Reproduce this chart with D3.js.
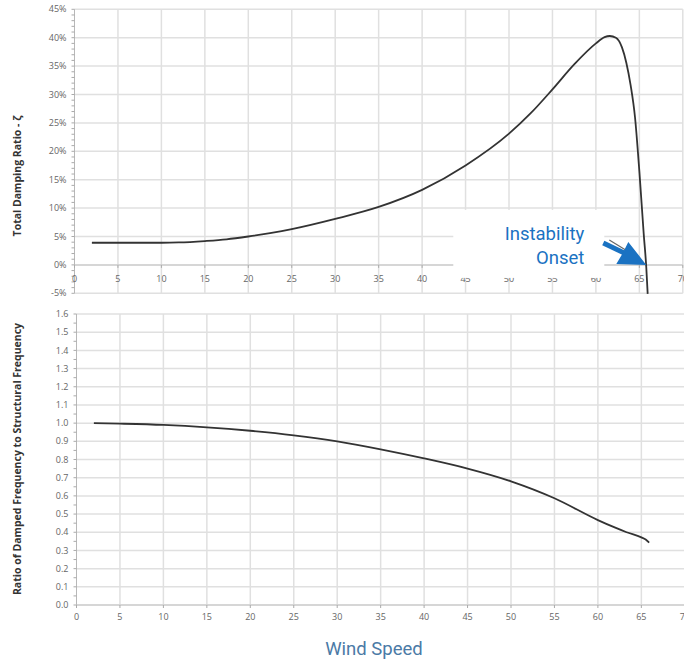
<!DOCTYPE html>
<html><head><meta charset="utf-8">
<script src="https://cdn.jsdelivr.net/npm/d3@7"></script>
<style>
html,body{margin:0;padding:0;background:#fff;}
svg{display:block;}
</style></head>
<body>
<svg id="chart" width="684" height="659"></svg>
<script>
// ---- data ----
const xTicks = [0,5,10,15,20,25,30,35,40,45,50,55,60,65,70];
const dampTicks = [-5,0,5,10,15,20,25,30,35,40,45];
const freqTicks = [0,0.1,0.2,0.3,0.4,0.5,0.6,0.7,0.8,0.9,1.0,1.1,1.2,1.3,1.4,1.5,1.6];

const dampSpeed = [2,5,10,12,15,17.5,20,22.5,25,30,35,40,45,50,52.5,55,57.5,60,61,61.6,62.3,63,63.5,64,64.5,65,65.5,65.8,65.96];
const dampRatio = [3.9,3.9,3.9,3.95,4.2,4.5,5.0,5.6,6.3,8.1,10.2,13.2,17.5,23.1,26.7,30.9,35.3,39.0,40.1,40.3,40.0,38.3,35.6,31.6,26.0,16.5,5.5,-0.5,-5.1];

const freqSpeed = [2,5,10,15,20,25,30,35,40,45,50,55,60,62,63.3,65,65.5,65.9];
const freqRatio = [1.0,0.997,0.99,0.977,0.958,0.933,0.900,0.856,0.806,0.750,0.680,0.587,0.467,0.425,0.400,0.372,0.360,0.343];

const onsetSpeed = 65.8;
const xTitle = "Wind Speed";
const yTitleTop = "Total Damping Ratio - \u03B6";
const yTitleBottom = "Ratio of Damped Frequency to Structural Frequency";
const annotationLines = ["Instability","Onset"];

// ---- drawing ----
const svg = d3.select("#chart");
const gridColor = "#e0e0e0";
const tickFont = "'Open Sans', 'DejaVu Sans', sans-serif";

const xTop = d3.scaleLinear().domain([0,70]).range([74.5, 682.8]);
const yTop = d3.scaleLinear().domain([-5,45]).range([293.3, 9.3]);
const xBot = d3.scaleLinear().domain([0,70]).range([76.5, 684.8]);
const yBot = d3.scaleLinear().domain([0,1.6]).range([605, 314]);

function panel(x, y, yTicks, yFmt, minorStep, xAxisAt, xLabelY) {
  const g = svg.append("g");
  g.selectAll(".hg").data(yTicks).join("line")
    .attr("x1", x.range()[0]).attr("x2", x.range()[1])
    .attr("y1", d=>y(d)).attr("y2", d=>y(d))
    .attr("stroke", gridColor).attr("stroke-width", 1.5);
  g.selectAll(".vg").data(xTicks.filter(d=>d>0)).join("line")
    .attr("x1", d=>x(d)).attr("x2", d=>x(d))
    .attr("y1", y.range()[1]).attr("y2", y.range()[0])
    .attr("stroke", gridColor).attr("stroke-width", 1.5);
  g.append("line").attr("x1", x(0)).attr("x2", x(0))
    .attr("y1", y.range()[1]).attr("y2", y.range()[0])
    .attr("stroke", "#b8b8b8").attr("stroke-width", 1);
  g.append("line").attr("x1", x(0)).attr("x2", x.range()[1])
    .attr("y1", y(xAxisAt)).attr("y2", y(xAxisAt))
    .attr("stroke", "#d0d0d0").attr("stroke-width", 1.5);
  const dom = y.domain();
  const minor = d3.range(dom[0], dom[1] + minorStep/2, minorStep);
  g.selectAll(".mt").data(minor).join("line")
    .attr("x1", x(0)-3).attr("x2", x(0))
    .attr("y1", d=>y(d)).attr("y2", d=>y(d))
    .attr("stroke", "#aaa").attr("stroke-width", 1);
  g.selectAll(".xt").data(xTicks).join("line")
    .attr("x1", d=>x(d)).attr("x2", d=>x(d))
    .attr("y1", y(xAxisAt)).attr("y2", y(xAxisAt)+3)
    .attr("stroke", "#aaa").attr("stroke-width", 1);
  g.selectAll(".yl").data(yTicks).join("text")
    .attr("x", x(0)-8).attr("y", d=>y(d)).attr("dy", "0.35em")
    .attr("text-anchor", "end").attr("font-family", tickFont)
    .attr("font-size", 9).attr("fill", "#666").text(yFmt);
  g.selectAll(".xl").data(xTicks).join("text")
    .attr("x", d=>x(d)).attr("y", xLabelY).attr("dy", "0.35em")
    .attr("text-anchor", "middle").attr("font-family", tickFont)
    .attr("font-size", 9).attr("fill", "#666").text(d=>d);
  return g;
}

panel(xTop, yTop, dampTicks, d=>d+"%", 1, 0, 278.5);
panel(xBot, yBot, freqTicks, d=>d.toFixed(1), 0.05, 0, 617);

// annotation background box (covers grid)
const tipX = xTop(onsetSpeed), tipY = yTop(0);
svg.append("rect")
  .attr("x", tipX - 193).attr("y", tipY - 55)
  .attr("width", 151).attr("height", 68)
  .attr("fill", "#fff");

// curves
const line = (x,y)=>d3.line().x(d=>x(d[0])).y(d=>y(d[1])).curve(d3.curveMonotoneX);
svg.append("path")
  .datum(dampSpeed.map((s,i)=>[s, dampRatio[i]]))
  .attr("d", line(xTop,yTop))
  .attr("fill","none").attr("stroke","#333").attr("stroke-width",1.8);
svg.append("path")
  .datum(freqSpeed.map((s,i)=>[s, freqRatio[i]]))
  .attr("d", line(xBot,yBot))
  .attr("fill","none").attr("stroke","#333").attr("stroke-width",1.8);

// arrow
const blue = "#1a72c2";
svg.append("line")
  .attr("x1", tipX-37).attr("y1", tipY-25)
  .attr("x2", tipX-19).attr("y2", tipY-14)
  .attr("stroke", "#666").attr("stroke-width", 1.2);
svg.append("line")
  .attr("x1", tipX-43).attr("y1", tipY-22)
  .attr("x2", tipX-18).attr("y2", tipY-10)
  .attr("stroke", blue).attr("stroke-width", 5);
svg.append("polygon")
  .attr("points", [[tipX,tipY],[tipX-18,tipY-23],[tipX-24,tipY-11],[tipX-30,tipY-1]].map(p=>p.join(",")).join(" "))
  .attr("fill", blue);

// annotation text
svg.append("g").selectAll("text").data(annotationLines).join("text")
  .attr("x", tipX - 62).attr("y", (d,i)=>tipY - 25 + i*24)
  .attr("text-anchor", "end")
  .attr("font-family", "Roboto, 'Open Sans', sans-serif")
  .attr("font-size", 18.5).attr("fill", blue).text(d=>d);

// axis titles
svg.append("text")
  .attr("transform", "translate(21,176) rotate(-90)")
  .attr("text-anchor", "middle").attr("font-family", tickFont)
  .attr("font-weight", "bold").attr("font-size", 10.5).attr("fill", "#333")
  .text(yTitleTop);
svg.append("text")
  .attr("transform", "translate(21,459) rotate(-90)")
  .attr("text-anchor", "middle").attr("font-family", tickFont)
  .attr("font-weight", "bold").attr("font-size", 10.5).attr("fill", "#333")
  .text(yTitleBottom);
svg.append("text")
  .attr("x", 374).attr("y", 655)
  .attr("text-anchor", "middle").attr("font-family", "Roboto, sans-serif")
  .attr("font-size", 18.5).attr("fill", "#4b7aa6")
  .text(xTitle);
</script>
</body></html>
